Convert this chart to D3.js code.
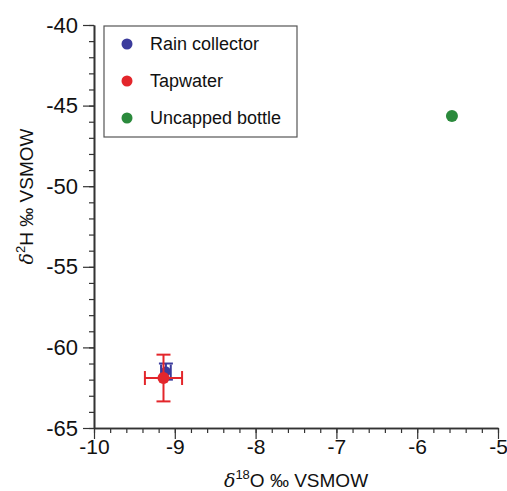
<!DOCTYPE html>
<html>
<head>
<meta charset="utf-8">
<script src="https://cdn.jsdelivr.net/npm/d3@7"></script>
<style>
  body { margin: 0; background: #fff; }
  svg { display: block; font-family: "Liberation Sans", Arial, sans-serif; }
</style>
</head>
<body>
<div id="chart"></div>
<script>
// data
const series = ["Rain collector", "Tapwater", "Uncapped bottle"];
const colors = ["#3b3b9c", "#e3262b", "#2b8a3c"];
const d18O = [-9.11, -9.14, -5.57];
const d18OErr = [0.06, 0.23, 0];
const d2H = [-61.5, -61.9, -45.65];
const d2HErr = [0.5, 1.45, 0];
const xTicks = [-10, -9, -8, -7, -6, -5];
const yTicks = [-65, -60, -55, -50, -45, -40];

const width = 507;
const height = 491;
const margin = { top: 25, right: 9, bottom: 63, left: 94 };

const svg = d3
  .select("#chart")
  .append("svg")
  .attr("width", width)
  .attr("height", height);

const x = d3.scaleLinear().domain([-10, -5]).range([margin.left, width - margin.right]);
const y = d3.scaleLinear().domain([-65, -40]).range([height - margin.bottom, margin.top]);

const axisColor = "#333";

// x axis
const xAxis = svg
  .append("g")
  .attr("transform", `translate(0,${y(-65)})`);
xAxis
  .call(
    d3.axisBottom(x).ticks(25).tickSize(5).tickFormat("").tickSizeOuter(0)
  );
xAxis
  .append("g")
  .call(d3.axisBottom(x).tickValues(xTicks).tickSize(11).tickFormat((d) => d).tickSizeOuter(0));
xAxis.selectAll(".domain").attr("stroke", axisColor).attr("stroke-width", 1.6);
xAxis.selectAll(".tick line").attr("stroke", axisColor).attr("stroke-width", 1.2);
xAxis
  .selectAll(".tick text")
  .attr("fill", "#111")
  .style("font-size", "21px")
  .attr("y", 9)
  .attr("dy", "0.8em");

// y axis
const yAxis = svg.append("g").attr("transform", `translate(${x(-10)},0)`);
yAxis.call(d3.axisLeft(y).ticks(25).tickSize(5).tickFormat("").tickSizeOuter(0));
yAxis
  .append("g")
  .call(d3.axisLeft(y).tickValues(yTicks).tickSize(11).tickFormat((d) => d).tickSizeOuter(0));
yAxis.selectAll(".domain").attr("stroke", axisColor).attr("stroke-width", 1.6);
yAxis.selectAll(".tick line").attr("stroke", axisColor).attr("stroke-width", 1.2);
yAxis
  .selectAll(".tick text")
  .attr("fill", "#111")
  .style("font-size", "22px")
  .attr("x", -16);

// axis labels
const xLabel = svg
  .append("text")
  .attr("x", (x(-10) + x(-5)) / 2)
  .attr("y", 487)
  .attr("text-anchor", "middle")
  .style("font-size", "19px")
  .attr("fill", "#111");
xLabel.append("tspan").style("font-family", "'DejaVu Serif', serif").style("font-style", "italic").text("δ");
xLabel.append("tspan").attr("dy", -8).style("font-size", "13px").text("18");
xLabel.append("tspan").attr("dy", 8).text("O ‰ VSMOW");

const yLabel = svg
  .append("text")
  .attr("transform", `translate(33,${(y(-65) + y(-40)) / 2 - 30}) rotate(-90)`)
  .attr("text-anchor", "middle")
  .style("font-size", "19px")
  .attr("fill", "#111");
yLabel.append("tspan").style("font-family", "'DejaVu Serif', serif").style("font-style", "italic").text("δ");
yLabel.append("tspan").attr("dy", -8).style("font-size", "13px").text("2");
yLabel.append("tspan").attr("dy", 8).text("H ‰ VSMOW");

// points with error bars
const pts = series.map((name, i) => ({
  name,
  color: colors[i],
  x: d18O[i],
  xe: d18OErr[i],
  y: d2H[i],
  ye: d2HErr[i],
  r: i === 0 ? 5 : 6,
}));

const cap = 7;
const pg = svg.append("g");
pts.forEach((p) => {
  const g = pg.append("g").attr("stroke", p.color).attr("stroke-width", 2);
  if (p.ye > 0) {
    g.append("line").attr("x1", x(p.x)).attr("x2", x(p.x)).attr("y1", y(p.y - p.ye)).attr("y2", y(p.y + p.ye));
    [p.y - p.ye, p.y + p.ye].forEach((v) => {
      g.append("line").attr("x1", x(p.x) - cap).attr("x2", x(p.x) + cap).attr("y1", y(v)).attr("y2", y(v));
    });
  }
  if (p.xe > 0) {
    g.append("line").attr("y1", y(p.y)).attr("y2", y(p.y)).attr("x1", x(p.x - p.xe)).attr("x2", x(p.x + p.xe));
    [p.x - p.xe, p.x + p.xe].forEach((v) => {
      g.append("line").attr("y1", y(p.y) - cap).attr("y2", y(p.y) + cap).attr("x1", x(v)).attr("x2", x(v));
    });
  }
  pg.append("circle").attr("cx", x(p.x)).attr("cy", y(p.y)).attr("r", p.r).attr("fill", p.color);
});

// legend
const legend = svg.append("g");
legend
  .append("rect")
  .attr("x", 104)
  .attr("y", 26)
  .attr("width", 193)
  .attr("height", 111)
  .attr("fill", "#fff")
  .attr("stroke", "#555")
  .attr("stroke-width", 1.2);
series.forEach((name, i) => {
  const ly = 44 + i * 37;
  legend.append("circle").attr("cx", 127).attr("cy", ly).attr("r", 5.5).attr("fill", colors[i]);
  legend
    .append("text")
    .attr("x", 150)
    .attr("y", ly)
    .attr("dy", "0.35em")
    .style("font-size", "18px")
    .attr("fill", "#111")
    .text(name);
});
</script>
</body>
</html>
